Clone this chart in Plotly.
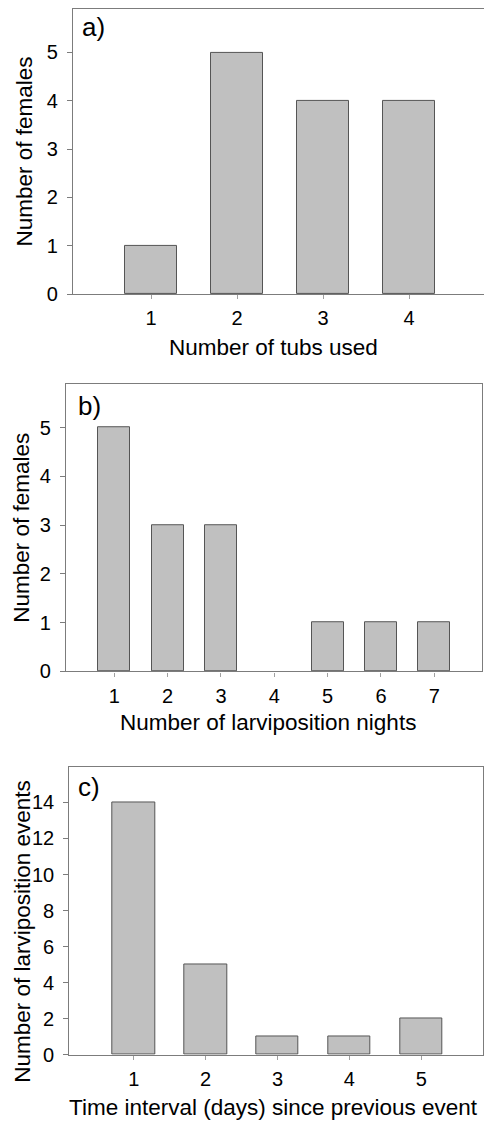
import plotly.graph_objects as go

W, H = 484, 1134

# Data
tubs_cats = [1, 2, 3, 4]
tubs_females = [1, 5, 4, 4]

nights_cats = [1, 2, 3, 4, 5, 6, 7]
nights_females = [5, 3, 3, 0, 1, 1, 1]

interval_cats = [1, 2, 3, 4, 5]
interval_events = [14, 5, 1, 1, 2]

FONT = "Liberation Sans, Arial, sans-serif"
BAR_FILL = "#c0c0c0"
BAR_LINE = "#555555"
FRAME = "#7c7c7c"


def px(x):
    return x / W


def py(y):
    return 1 - y / H


def bar(xs, ys, width, xa, ya):
    # no outline drawn for empty (zero-height) bars
    lw = [1 if v > 0 else 0 for v in ys]
    return go.Bar(x=xs, y=ys, width=width,
                  marker=dict(color=BAR_FILL, line=dict(color=BAR_LINE, width=lw)),
                  xaxis=xa, yaxis=ya, showlegend=False, hoverinfo="x+y")


fig = go.Figure()
fig.add_trace(bar(tubs_cats, tubs_females, 0.615, "x", "y"))
fig.add_trace(bar(nights_cats, nights_females, 0.6, "x2", "y2"))
fig.add_trace(bar(interval_cats, interval_events, 0.59, "x3", "y3"))

tickfont = dict(family=FONT, size=20, color="black")


def xax(dom, rng, tickvals, anchor):
    return dict(domain=[px(dom[0]), px(dom[1])], range=rng, anchor=anchor,
                tickmode="array", tickvals=tickvals, ticktext=[str(v) for v in tickvals],
                showline=True, linecolor=FRAME, linewidth=1.3, mirror=True,
                ticks="outside", ticklen=4, tickcolor="#a0a0a0", tickwidth=1,
                ticklabelstandoff=2,
                showgrid=False, zeroline=False, tickfont=tickfont, fixedrange=True)


def yax(dom, rng, tickvals, anchor, mirror):
    return dict(domain=[py(dom[1]), py(dom[0])], range=rng, anchor=anchor,
                tickmode="array", tickvals=tickvals, ticktext=[str(v) for v in tickvals],
                showline=True, linecolor=FRAME, linewidth=1.3, mirror=mirror,
                ticks="outside", ticklen=5, tickcolor=FRAME, tickwidth=1,
                ticklabelstandoff=5,
                showgrid=False, zeroline=False, tickfont=tickfont, fixedrange=True)


fig.update_layout(
    width=W, height=H,
    margin=dict(l=0, r=0, t=0, b=0),
    paper_bgcolor="white", plot_bgcolor="white",
    bargap=0,
    xaxis=xax((73, 484), [0.093, 4.872], tubs_cats, "y"),
    yaxis=yax((9, 297), [0, 5.9], [0, 1, 2, 3, 4, 5], "x", False),
    xaxis2=xax((66, 482), [0.094, 7.894], nights_cats, "y2"),
    yaxis2=yax((388, 678), [0, 5.89], [0, 1, 2, 3, 4, 5], "x2", True),
    xaxis3=xax((69.3, 482.5), [0.104, 5.851], interval_cats, "y3"),
    yaxis3=yax((775, 1065), [0, 15.94], [0, 2, 4, 6, 8, 10, 12, 14], "x3", True),
)

titlefont = dict(family=FONT, size=22.5, color="black")
labelfont = dict(family=FONT, size=26, color="black")

annots = [
    # x titles
    dict(text="Number of tubs used", x=273.7, y=351, angle=0, font=titlefont),
    dict(text="Number of larviposition nights", x=268, y=730, angle=0, font=titlefont),
    dict(text="Time interval (days) since previous event", x=273, y=1118, angle=0, font=titlefont),
    # y titles
    dict(text="Number of females", x=25, y=153, angle=-90, font=titlefont),
    dict(text="Number of females", x=22, y=533, angle=-90, font=titlefont),
    dict(text="Number of larviposition events", x=23, y=941, angle=-90, font=titlefont),
    # panel labels
    dict(text="a)", x=93, y=27, angle=0, font=labelfont),
    dict(text="b)", x=89, y=410, angle=0, font=labelfont),
    dict(text="c)", x=88.5, y=795, angle=0, font=labelfont),
]
for a in annots:
    fig.add_annotation(text=a["text"], x=px(a["x"]), y=py(a["y"]), xref="paper", yref="paper",
                       xanchor="center", yanchor="middle", showarrow=False,
                       textangle=a["angle"], font=a["font"])

fig.write_html("out.html", config={"displayModeBar": False},
               post_script="document.body.style.margin='0';document.body.style.overflow='hidden';")
